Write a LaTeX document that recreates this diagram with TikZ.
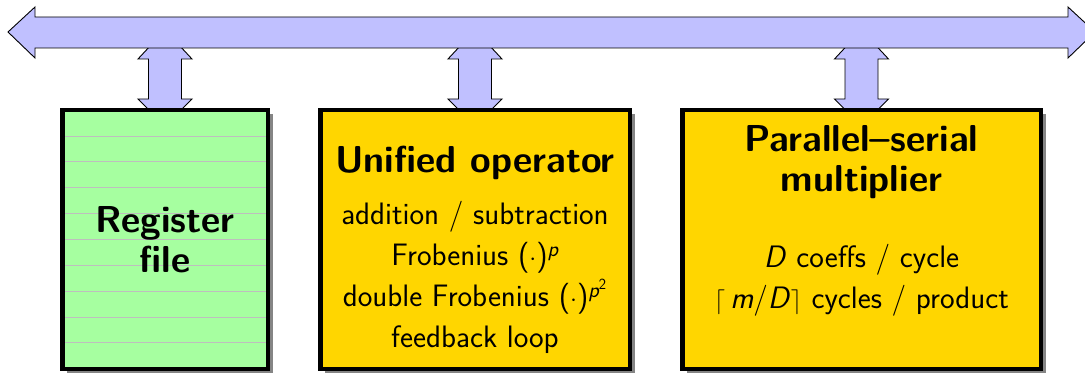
\documentclass[tikz,border=0pt]{standalone}
\usepackage{fontspec}
\usepackage{amsmath}
\usetikzlibrary{calc,shadows,backgrounds,positioning}

\definecolor{busblue}{RGB}{192,192,255}
\definecolor{regfill}{RGB}{166,255,160}
\definecolor{opfill}{RGB}{255,214,0}
\definecolor{rowline}{RGB}{190,190,190}

\tikzset{
  bus/.style={fill=busblue, draw=black, line width=0.9pt, line join=miter},
  unit/.style={draw=black, line width=4.5pt, inner sep=0pt,
    drop shadow={shadow xshift=5pt, shadow yshift=-4pt, fill=black!48, opacity=1}},
  regunit/.style={unit, fill=regfill,
    path picture={
      \foreach \k in {1,...,9}
        \draw[rowline, line width=1pt]
          ($(path picture bounding box.north west)!\k/10!(path picture bounding box.south west)$) --
          ($(path picture bounding box.north east)!\k/10!(path picture bounding box.south east)$);
    }},
  opunit/.style={unit, fill=opfill},
  headtext/.style={font=\fontsize{37.5}{40}\selectfont\sffamily\bfseries, align=center, inner sep=0pt},
  bodytext/.style={font=\fontsize{31}{41}\selectfont\sffamily, align=center, inner sep=0pt}
}

\begin{document}
\begin{tikzpicture}[x=1pt, y=-1pt]
  \useasboundingbox (0,0) rectangle (1085,374);

  % functional units
  \node[regunit, minimum width=205.5pt, minimum height=258.5pt] (reg) at (165,239.5) {};
  \node[opunit, minimum width=309.5pt, minimum height=258.5pt] (uop) at (475,239.5) {};
  \node[opunit, minimum width=358.5pt, minimum height=258.5pt] (mul) at (861.5,239.5) {};

  \node[headtext] (regname) at (reg.center) {Register\\file};

  \node[headtext, anchor=base] (uophead) at (475,173) {Unified operator};
  \node[bodytext, anchor=north] (uopbody) at (475,201) {addition / subtraction\\
    Frobenius ($\cdot$)$^{\textit{p}}$\\
    double Frobenius ($\cdot$)$^{\textit{p}^{\textsf{2}}}$\\
    feedback loop};

  \node[headtext, anchor=north] (mulhead) at (861.5,125) {Parallel--serial\\multiplier};
  \node[bodytext, anchor=north] (mulbody) at (861.5,244) {\textit{D} coeffs / cycle\\
    $\lceil$\,\textit{m}/\textit{D}$\rceil$ cycles / product};

  % links to the bus
  \begin{pgfonlayer}{background}
    \foreach \b in {reg,uop,mul}
      \filldraw[bus, shift={(\b.north)}]
        (0,18) -- (27,-9) -- (16.5,-9) -- (16.5,-49) -- (27,-49) -- (0,-78)
        -- (-27,-49) -- (-16.5,-49) -- (-16.5,-9) -- (-27,-9) -- cycle;
  \end{pgfonlayer}

  % system bus
  \filldraw[bus] (8,32) -- (35,7) -- (35,17) -- (1068,17) -- (1068,7) -- (1095,32)
    -- (1068,58) -- (1068,48) -- (35,48) -- (35,58) -- cycle;
\end{tikzpicture}
\end{document}
